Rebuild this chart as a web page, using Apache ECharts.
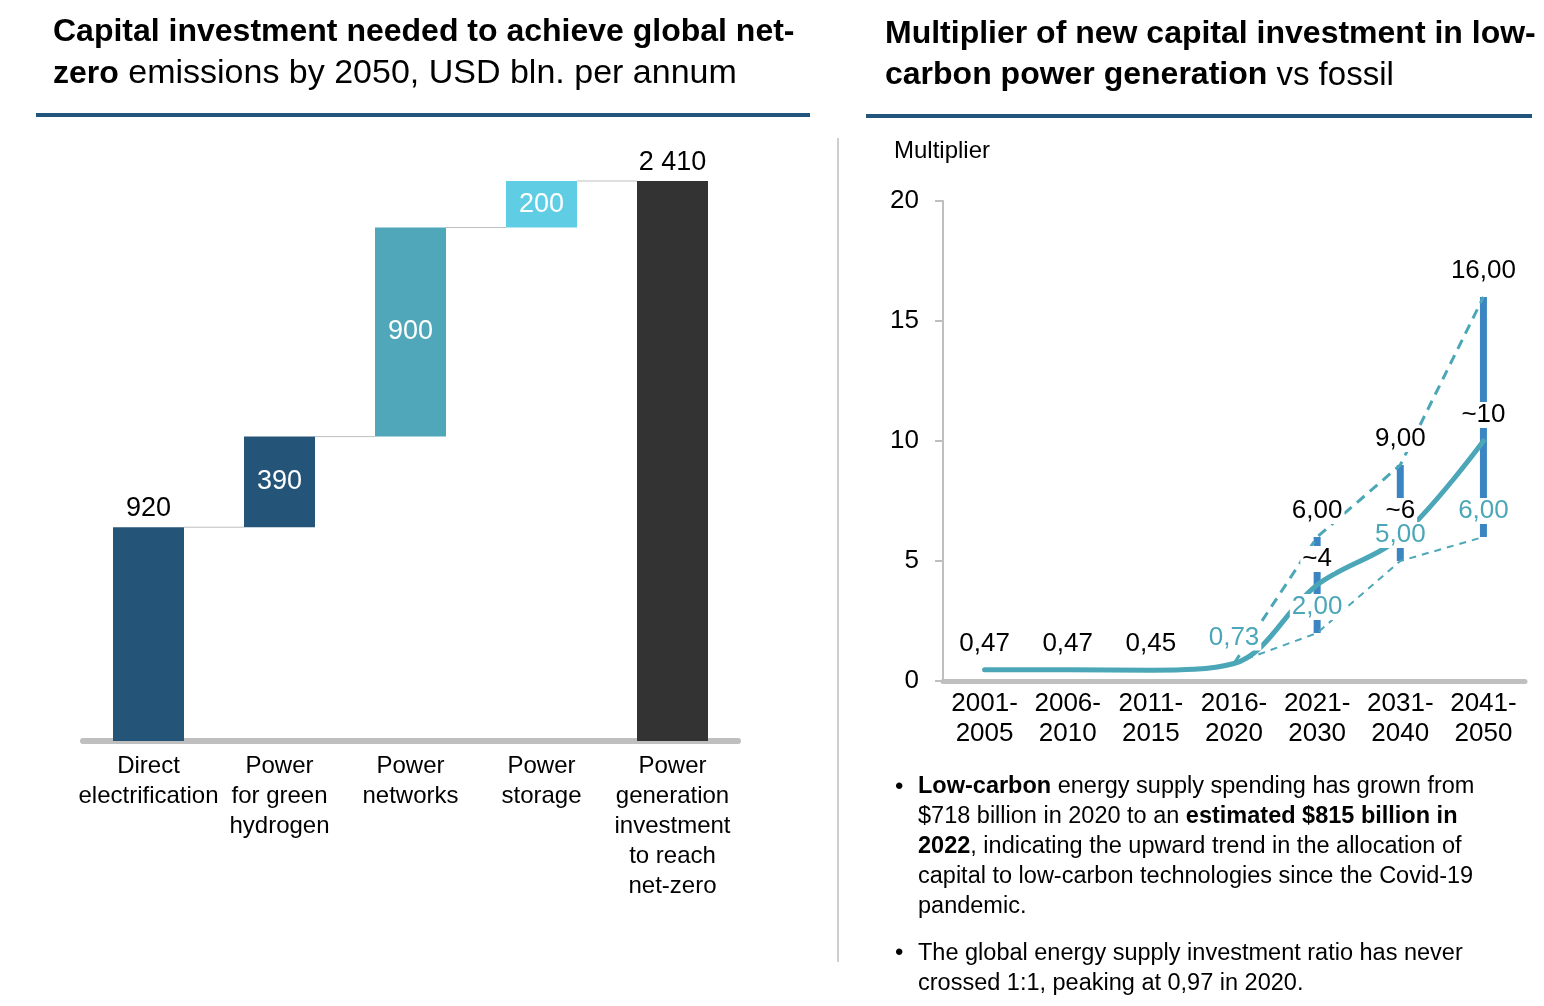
<!DOCTYPE html>
<html>
<head>
<meta charset="utf-8">
<script src="https://cdn.jsdelivr.net/npm/echarts@6/dist/echarts.min.js"></script>
<style>
html,body{margin:0;padding:0;background:#fff;}
#chart{width:1544px;height:1006px;}
</style>
</head>
<body>
<div id="chart"></div>
<script>
// ---------- Left chart data (waterfall) ----------
const wfCategories = ['Direct\nelectrification', 'Power\nfor green\nhydrogen', 'Power\nnetworks', 'Power\nstorage', 'Power\ngeneration\ninvestment\nto reach\nnet-zero'];
const wfValues = [920, 390, 900, 200, 2410];
const wfIsTotal = [false, false, false, false, true];
const wfColors = ['#245579', '#245579', '#4fa7b9', '#5fcde3', '#333333'];

// ---------- Right chart data ----------
const periods = ['2001-\n2005', '2006-\n2010', '2011-\n2015', '2016-\n2020', '2021-\n2030', '2031-\n2040', '2041-\n2050'];
const midValues = [0.47, 0.47, 0.45, 0.73, 4, 6, 10];
const highValues = [null, null, null, 0.73, 6, 9, 16];
const lowValues = [null, null, null, 0.73, 2, 5, 6];
const rangeLow = [null, null, null, null, 2, 5, 6];
const rangeHigh = [null, null, null, null, 6, 9, 16];
const yTicks = [0, 5, 10, 15, 20];

// ---------- Derived waterfall structures ----------
const wfBase = [];
const wfEnds = [];
let run = 0;
wfValues.forEach((v, i) => {
  if (wfIsTotal[i]) { wfBase.push(0); run = v; }
  else { wfBase.push(run); run += v; }
  wfEnds.push(run);
});
const connectorData = wfEnds.slice(0, -1).map((v, i) => [i, v]);

const rangeData = [];
rangeLow.forEach((lo, i) => { if (lo !== null) rangeData.push([i, lo, rangeHigh[i]]); });

const FONT = '"Liberation Sans", Arial, sans-serif';
const TEAL = '#4ba7b8';
const BLUE_BAR = '#3b86c2';
const fmtDec = v => v.toFixed(2).replace('.', ',');
const fmtThousands = v => String(v).replace(/\B(?=(\d{3})+(?!\d))/g, ' ');

const chart = echarts.init(document.getElementById('chart'), null, {renderer: 'canvas'});

const BAR_W = 71;

const labelBase = {
  position: 'top', distance: 13, fontSize: 26, fontFamily: FONT,
  backgroundColor: '#fff', padding: [0, 2]
};

const option = {
  animation: false,
  textStyle: {fontFamily: FONT},
  grid: [
    {left: 83, top: 181, width: 655, height: 560},
    {left: 943, top: 201, width: 582, height: 480}
  ],
  xAxis: [
    {
      gridIndex: 0, type: 'category', data: wfCategories,
      axisLine: {lineStyle: {color: '#bfbfbf', width: 6}},
      axisTick: {show: false},
      axisLabel: {color: '#000', fontSize: 24, lineHeight: 30, margin: 10, fontFamily: FONT, interval: 0}
    },
    {
      gridIndex: 1, type: 'category', data: periods,
      axisLine: {lineStyle: {color: '#bfbfbf', width: 5}},
      axisTick: {show: false},
      axisLabel: {color: '#000', fontSize: 26, lineHeight: 30, margin: 8, fontFamily: FONT, interval: 0}
    }
  ],
  yAxis: [
    {gridIndex: 0, type: 'value', min: 0, max: 2410, show: false},
    {
      gridIndex: 1, type: 'value', min: yTicks[0], max: yTicks[yTicks.length - 1], interval: 5,
      axisLine: {show: true, lineStyle: {color: '#bfbfbf', width: 2}},
      axisTick: {show: true, length: 8, lineStyle: {color: '#bfbfbf', width: 2}},
      splitLine: {show: false},
      axisLabel: {color: '#000', fontSize: 26, margin: 24, fontFamily: FONT}
    }
  ],
  graphic: [
    // left title
    {type: 'text', left: 53, top: 16, style: {text: 'Capital investment needed to achieve global net-', font: 'bold 32px ' + FONT, fill: '#000'}},
    {type: 'text', left: 53, top: 57, style: {
      text: '{b|zero}{r| emissions by 2050, USD bln. per annum}',
      rich: {b: {font: 'bold 32px ' + FONT, fill: '#000'}, r: {font: '34px ' + FONT, fill: '#000'}}
    }},
    {type: 'rect', shape: {x: 36, y: 113, width: 774, height: 4}, style: {fill: '#22557b'}},
    // right title
    {type: 'text', left: 885, top: 18, style: {text: 'Multiplier of new capital investment in low-', font: 'bold 32px ' + FONT, fill: '#000'}},
    {type: 'text', left: 885, top: 59, style: {
      text: '{b|carbon power generation}{r| vs fossil}',
      rich: {b: {font: 'bold 32px ' + FONT, fill: '#000'}, r: {font: '33px ' + FONT, fill: '#000'}}
    }},
    {type: 'rect', shape: {x: 866, y: 114, width: 666, height: 4}, style: {fill: '#22557b'}},
    // separator
    {type: 'line', shape: {x1: 838, y1: 138, x2: 838, y2: 962}, style: {stroke: '#bfbfbf', lineWidth: 1.5}},
    // y axis name
    {type: 'text', left: 894, top: 139, style: {text: 'Multiplier', font: '24px ' + FONT, fill: '#000'}},
    // bullets
    {type: 'text', left: 895, top: 775, style: {text: '•', font: '24px ' + FONT, fill: '#000'}},
    {type: 'text', left: 918, top: 775, style: {
      text: '{b|Low-carbon}{r| energy supply spending has grown from}\n{r|$718 billion in 2020 to an }{b|estimated $815 billion in}\n{b|2022}{r|, indicating the upward trend in the allocation of}\n{r|capital to low-carbon technologies since the Covid-19}\n{r|pandemic.}',
      rich: {b: {font: 'bold 23.5px ' + FONT, fill: '#000', lineHeight: 30}, r: {font: '23.5px ' + FONT, fill: '#000', lineHeight: 30}}
    }},
    {type: 'text', left: 895, top: 941, style: {text: '•', font: '24px ' + FONT, fill: '#000'}},
    {type: 'text', left: 918, top: 939, style: {
      text: 'The global energy supply investment ratio has never\ncrossed 1:1, peaking at 0,97 in 2020.',
      font: '23.5px ' + FONT, fill: '#000', lineHeight: 30
    }}
  ],
  series: [
    // ---- Waterfall ----
    {
      type: 'bar', xAxisIndex: 0, yAxisIndex: 0, stack: 'wf', barWidth: BAR_W,
      data: wfBase, itemStyle: {color: 'transparent'}, silent: true
    },
    {
      type: 'bar', xAxisIndex: 0, yAxisIndex: 0, stack: 'wf', barWidth: BAR_W,
      data: wfValues.map((v, i) => ({
        value: v,
        itemStyle: {color: wfColors[i]},
        label: (i === 0 || wfIsTotal[i])
          ? {position: 'top', color: '#000', distance: 5}
          : {position: 'inside', color: '#fff'}
      })),
      label: {show: true, fontSize: 27, fontFamily: FONT, formatter: p => fmtThousands(p.value)}
    },
    {
      type: 'custom', xAxisIndex: 0, yAxisIndex: 0, data: connectorData, silent: true,
      renderItem: (params, api) => {
        const p = api.coord([api.value(0), api.value(1)]);
        const w = api.size([1, 0])[0];
        return {type: 'line', shape: {x1: p[0] + BAR_W / 2, y1: p[1], x2: p[0] + w - BAR_W / 2, y2: p[1]},
                style: {stroke: '#bfbfbf', lineWidth: 1}};
      }
    },
    // ---- Right chart ----
    {
      type: 'custom', xAxisIndex: 1, yAxisIndex: 1, data: rangeData, z: 1, silent: true,
      renderItem: (params, api) => {
        const a = api.coord([api.value(0), api.value(1)]);
        const b = api.coord([api.value(0), api.value(2)]);
        return {type: 'rect', shape: {x: a[0] - 3.5, y: b[1], width: 7, height: a[1] - b[1]}, style: {fill: BLUE_BAR}};
      }
    },
    {
      type: 'line', xAxisIndex: 1, yAxisIndex: 1, data: lowValues, z: 2, showSymbol: false, smooth: false,
      lineStyle: {color: TEAL, width: 2, type: [7, 6]}
    },
    {
      type: 'line', xAxisIndex: 1, yAxisIndex: 1, data: highValues, z: 2, showSymbol: false, smooth: false,
      lineStyle: {color: TEAL, width: 3, type: [10, 7]}
    },
    {
      type: 'line', xAxisIndex: 1, yAxisIndex: 1, data: midValues, z: 3, showSymbol: false, smooth: 0.35,
      lineStyle: {color: TEAL, width: 5, cap: 'round'}
    },
    // labels (scatter layers on top)
    {
      type: 'scatter', xAxisIndex: 1, yAxisIndex: 1, z: 10, symbolSize: 0, silent: true,
      itemStyle: {opacity: 1},
      data: midValues.map((v, i) => ({value: v, label: {show: i !== 3}})),
      label: Object.assign({}, labelBase, {
        color: '#000',
        formatter: p => p.dataIndex <= 2 ? fmtDec(p.value) : '~' + p.value
      })
    },
    {
      type: 'scatter', xAxisIndex: 1, yAxisIndex: 1, z: 10, symbolSize: 0, silent: true,
      itemStyle: {opacity: 1},
      data: highValues.map((v, i) => ({value: v, label: {show: i > 3 && v !== null}})),
      label: Object.assign({}, labelBase, {color: '#000', formatter: p => fmtDec(p.value)})
    },
    {
      type: 'scatter', xAxisIndex: 1, yAxisIndex: 1, z: 10, symbolSize: 0, silent: true,
      itemStyle: {opacity: 1},
      data: lowValues.map(v => ({value: v, label: {show: v !== null}})),
      label: Object.assign({}, labelBase, {color: TEAL, formatter: p => fmtDec(p.value)})
    }
  ]
};

chart.setOption(option);
</script>
</body>
</html>
